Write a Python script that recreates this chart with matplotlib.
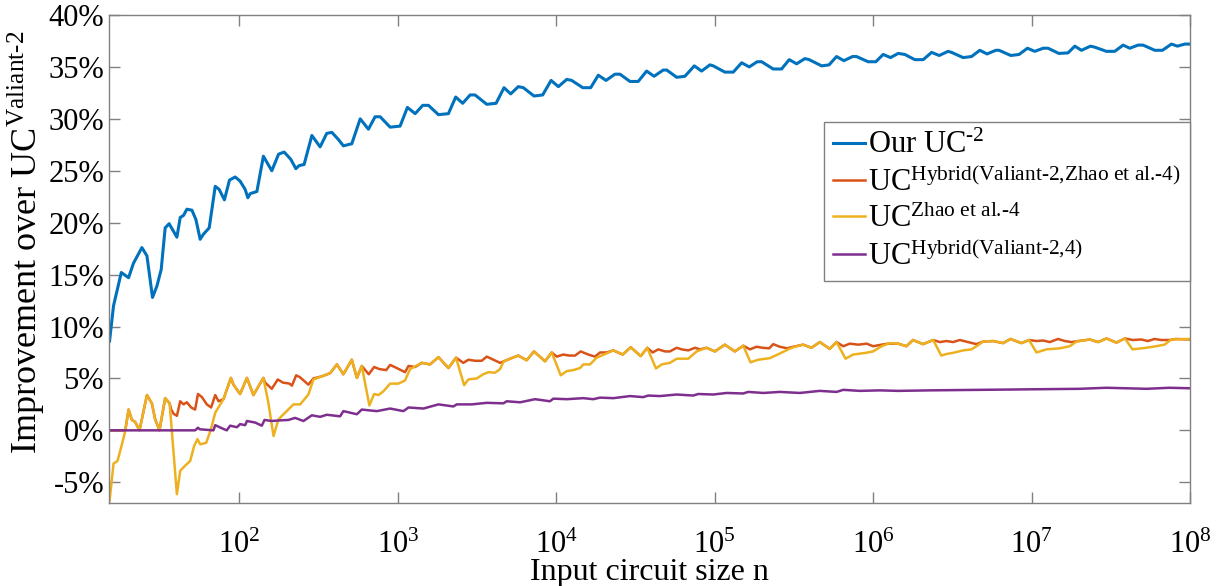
import numpy as np
import matplotlib
matplotlib.use("Agg")
import matplotlib.pyplot as plt

plt.rcParams['font.family'] = ['Liberation Serif', 'DejaVu Serif']
plt.rcParams['mathtext.fontset'] = 'custom'
plt.rcParams['mathtext.rm'] = 'Liberation Serif'
plt.rcParams['mathtext.it'] = 'Liberation Serif:italic'
plt.rcParams['axes.unicode_minus'] = False

# x values are log10(n); y values in percent
blue_logn = [1.18, 1.205, 1.254, 1.300, 1.331, 1.384, 1.416, 1.451, 1.479, 1.506,
             1.531, 1.556, 1.605, 1.626, 1.647, 1.668, 1.700, 1.725, 1.752, 1.773,
             1.809, 1.847, 1.872, 1.905, 1.937, 1.973, 2.004, 2.036, 2.053, 2.068,
             2.110, 2.151, 2.204, 2.247, 2.282, 2.324, 2.356, 2.377, 2.408, 2.457,
             2.509, 2.551, 2.583, 2.625, 2.656, 2.709, 2.762, 2.814, 2.856, 2.888,
             2.951, 3.014, 3.060, 3.109, 3.157, 3.193, 3.256, 3.319, 3.365, 3.409,
             3.456, 3.487, 3.561, 3.620, 3.670, 3.712, 3.760, 3.792, 3.859, 3.914,
             3.967, 4.013, 4.066, 4.097, 4.167, 4.217, 4.265, 4.314, 4.370, 4.402,
             4.465, 4.517, 4.570, 4.617, 4.675, 4.697, 4.760, 4.812, 4.871, 4.917,
             4.970, 4.991, 5.064, 5.117, 5.170, 5.218, 5.268, 5.296, 5.369, 5.422,
             5.470, 5.517, 5.569, 5.596, 5.675, 5.722, 5.769, 5.815, 5.870, 5.895,
             5.968, 6.017, 6.063, 6.110, 6.158, 6.200, 6.263, 6.316, 6.369, 6.417,
             6.473, 6.495, 6.568, 6.621, 6.673, 6.719, 6.774, 6.795, 6.869, 6.921,
             6.974, 7.020, 7.073, 7.104, 7.172, 7.230, 7.273, 7.315, 7.372, 7.399,
             7.473, 7.525, 7.578, 7.620, 7.672, 7.704, 7.778, 7.826, 7.883, 7.921,
             7.967, 8.0]
blue_pct = [8.6, 12.0, 15.2, 14.7, 16.1, 17.6, 16.8, 12.8, 13.9, 15.5,
            19.5, 19.9, 18.6, 20.5, 20.7, 21.3, 21.2, 20.3, 18.4, 18.9,
            19.5, 23.5, 23.2, 22.2, 24.1, 24.4, 24.0, 23.2, 22.4, 22.8,
            23.0, 26.4, 25.0, 26.6, 26.8, 26.1, 25.2, 25.5, 25.6, 28.4,
            27.3, 28.6, 28.7, 28.0, 27.4, 27.6, 30.0, 29.0, 30.2, 30.2,
            29.2, 29.3, 31.1, 30.5, 31.3, 31.3, 30.4, 30.5, 32.1, 31.5,
            32.3, 32.3, 31.4, 31.5, 33.0, 32.4, 33.1, 33.0, 32.2, 32.3,
            33.7, 33.1, 33.8, 33.7, 33.0, 33.0, 34.2, 33.7, 34.3, 34.3,
            33.6, 33.6, 34.6, 34.1, 34.7, 34.7, 34.0, 34.1, 35.1, 34.6,
            35.2, 35.1, 34.5, 34.5, 35.4, 35.0, 35.5, 35.5, 34.8, 34.8,
            35.7, 35.3, 35.8, 35.7, 35.1, 35.2, 36.0, 35.6, 36.0, 36.0,
            35.5, 35.5, 36.2, 35.9, 36.3, 36.2, 35.7, 35.7, 36.4, 36.1,
            36.5, 36.4, 35.9, 36.0, 36.6, 36.25, 36.6, 36.6, 36.1, 36.2,
            36.8, 36.5, 36.8, 36.8, 36.3, 36.35, 37.0, 36.6, 37.0, 36.9,
            36.5, 36.5, 37.1, 36.8, 37.1, 37.1, 36.6, 36.6, 37.2, 37.0,
            37.2, 37.2]

orange_logn = [1.18, 1.279, 1.300, 1.321, 1.342, 1.369, 1.416, 1.447, 1.468, 1.495,
               1.531, 1.559, 1.569, 1.584, 1.605, 1.626, 1.647, 1.668, 1.695, 1.720,
               1.738, 1.763, 1.794, 1.821, 1.847, 1.868, 1.899, 1.946, 1.962, 2.004,
               2.047, 2.088, 2.151, 2.162, 2.204, 2.242, 2.274, 2.316, 2.331, 2.358,
               2.383, 2.435, 2.467, 2.520, 2.572, 2.615, 2.656, 2.709, 2.741, 2.772,
               2.816, 2.850, 2.883, 2.926, 2.951, 2.993, 3.045, 3.067, 3.109, 3.151,
               3.203, 3.256, 3.319, 3.367, 3.413, 3.445, 3.487, 3.529, 3.561, 3.603,
               3.645, 3.708, 3.760, 3.813, 3.859, 3.929, 3.971, 4.003, 4.044, 4.082,
               4.118, 4.154, 4.202, 4.244, 4.276, 4.318, 4.360, 4.419, 4.470, 4.533,
               4.574, 4.608, 4.644, 4.686, 4.717, 4.760, 4.791, 4.833, 4.875, 4.907,
               4.949, 5.001, 5.064, 5.127, 5.180, 5.222, 5.264, 5.302, 5.344, 5.369,
               5.411, 5.457, 5.495, 5.558, 5.611, 5.663, 5.726, 5.769, 5.811, 5.853,
               5.906, 5.959, 6.000, 6.053, 6.095, 6.158, 6.210, 6.252, 6.315, 6.379,
               6.421, 6.463, 6.505, 6.547, 6.599, 6.652, 6.694, 6.757, 6.820, 6.867,
               6.936, 6.984, 7.031, 7.073, 7.115, 7.167, 7.210, 7.252, 7.294, 7.368,
               7.420, 7.473, 7.536, 7.589, 7.639, 7.692, 7.734, 7.776, 7.818, 7.870,
               7.912, 8.0]
orange_pct = [0.0, 0.0, 2.0, 1.0, 0.8, 0.0, 3.4, 2.6, 1.05, 0.0,
              3.1, 2.6, 2.0, 1.6, 1.4, 2.8, 2.5, 2.7, 2.2, 2.0,
              3.5, 3.2, 2.5, 2.2, 3.4, 2.8, 3.0, 5.05, 4.4, 3.5,
              5.05, 3.4, 5.05, 4.6, 4.0, 4.9, 4.6, 4.5, 4.3, 5.3,
              5.1, 4.4, 5.0, 5.2, 5.5, 6.35, 5.4, 6.8, 5.05, 6.2,
              5.4, 6.1, 5.9, 5.8, 6.3, 6.0, 5.6, 6.2, 6.1, 6.5,
              6.35, 7.05, 6.0, 7.0, 6.5, 6.8, 6.7, 6.7, 7.1, 6.8,
              6.5, 6.9, 7.2, 6.75, 7.6, 6.65, 7.5, 7.1, 7.3, 7.2,
              7.2, 7.6, 7.3, 7.1, 7.5, 7.5, 7.7, 7.3, 8.0, 7.15,
              7.95, 7.5, 7.8, 7.6, 7.6, 7.95, 7.8, 7.7, 7.95, 7.8,
              7.95, 7.6, 8.25, 7.6, 8.15, 7.8, 8.05, 7.95, 7.9, 8.3,
              8.05, 7.9, 8.05, 8.25, 7.95, 8.5, 7.85, 8.5, 8.1, 8.35,
              8.25, 8.35, 8.1, 8.25, 8.35, 8.35, 8.1, 8.7, 8.3, 8.7,
              8.5, 8.6, 8.5, 8.7, 8.5, 8.3, 8.55, 8.6, 8.4, 8.8,
              8.4, 8.7, 8.6, 8.65, 8.5, 8.8, 8.6, 8.5, 8.6, 8.75,
              8.5, 8.85, 8.45, 8.85, 8.7, 8.75, 8.6, 8.8, 8.7, 8.7,
              8.8, 8.75]

yellow_logn = [1.18, 1.205, 1.230, 1.258, 1.279, 1.300, 1.321, 1.342, 1.369, 1.416,
               1.447, 1.468, 1.495, 1.531, 1.559, 1.605, 1.626, 1.657, 1.689, 1.714,
               1.735, 1.752, 1.790, 1.820, 1.847, 1.899, 1.946, 1.962, 2.004, 2.047,
               2.088, 2.151, 2.183, 2.215, 2.246, 2.278, 2.341, 2.383, 2.435, 2.467,
               2.520, 2.572, 2.615, 2.656, 2.709, 2.741, 2.772, 2.820, 2.850, 2.877,
               2.908, 2.951, 3.003, 3.045, 3.077, 3.151, 3.203, 3.256, 3.319, 3.367,
               3.418, 3.445, 3.498, 3.539, 3.571, 3.613, 3.645, 3.666, 3.708, 3.760,
               3.813, 3.859, 3.929, 3.971, 4.028, 4.066, 4.107, 4.150, 4.171, 4.213,
               4.255, 4.286, 4.360, 4.419, 4.470, 4.533, 4.574, 4.629, 4.665, 4.717,
               4.760, 4.833, 4.886, 4.949, 5.001, 5.064, 5.127, 5.180, 5.226, 5.274,
               5.348, 5.411, 5.464, 5.495, 5.558, 5.611, 5.663, 5.726, 5.769, 5.826,
               5.874, 5.948, 6.000, 6.053, 6.105, 6.158, 6.210, 6.252, 6.315, 6.379,
               6.430, 6.463, 6.515, 6.568, 6.621, 6.662, 6.694, 6.757, 6.820, 6.867,
               6.936, 6.984, 7.031, 7.094, 7.178, 7.241, 7.283, 7.368, 7.420, 7.473,
               7.536, 7.589, 7.637, 7.723, 7.786, 7.839, 7.881, 8.0]
yellow_pct = [-6.8, -3.2, -2.95, -1.35, -0.05, 2.0, 1.0, 0.8, 0.0, 3.4,
              2.6, 1.05, 0.0, 3.1, 2.6, -6.15, -3.9, -3.4, -2.95, -1.5,
              -0.85, -1.35, -1.2, 0.1, 1.7, 3.0, 5.05, 4.4, 3.5, 5.05,
              3.4, 5.05, 2.6, -0.55, 1.05, 1.55, 2.5, 2.5, 3.45, 4.9,
              5.2, 5.5, 6.35, 5.4, 6.8, 5.05, 6.2, 2.4, 3.5, 3.4,
              3.75, 4.5, 4.5, 4.8, 5.9, 6.5, 6.35, 7.05, 6.0, 7.0,
              4.35, 4.9, 5.0, 5.4, 5.6, 5.55, 5.9, 6.6, 6.9, 7.2,
              6.75, 7.6, 6.65, 7.5, 5.3, 5.7, 5.8, 6.0, 6.35, 6.35,
              7.0, 7.2, 7.7, 7.3, 8.0, 7.15, 7.95, 5.96, 6.35, 6.5,
              6.9, 6.9, 7.6, 7.95, 7.6, 8.25, 7.6, 8.15, 6.55, 6.8,
              6.95, 7.4, 7.8, 8.0, 8.25, 7.95, 8.5, 7.85, 8.5, 6.9,
              7.3, 7.45, 7.6, 8.1, 8.4, 8.35, 8.1, 8.7, 8.3, 8.7,
              7.2, 7.35, 7.5, 7.7, 7.8, 8.2, 8.55, 8.6, 8.4, 8.8,
              8.4, 8.7, 7.5, 7.8, 7.9, 8.1, 8.55, 8.75, 8.5, 8.85,
              8.45, 8.85, 7.8, 7.95, 8.1, 8.25, 8.75, 8.8]

purple_logn = [1.18, 1.720, 1.738, 1.750, 1.836, 1.847, 1.889, 1.920, 1.941, 1.984,
               2.004, 2.036, 2.047, 2.099, 2.141, 2.158, 2.204, 2.246, 2.309, 2.351,
               2.404, 2.457, 2.509, 2.551, 2.635, 2.656, 2.741, 2.772, 2.867, 2.951,
               3.035, 3.067, 3.161, 3.256, 3.350, 3.372, 3.466, 3.561, 3.666, 3.687,
               3.771, 3.866, 3.960, 3.981, 4.066, 4.171, 4.233, 4.276, 4.360, 4.465,
               4.549, 4.580, 4.654, 4.760, 4.864, 4.896, 4.991, 5.075, 5.180, 5.211,
               5.306, 5.411, 5.537, 5.663, 5.769, 5.811, 5.916, 6.042, 6.158, 6.357,
               6.673, 6.989, 7.304, 7.473, 7.725, 7.870, 8.0]
purple_pct = [0.0, 0.0, 0.25, 0.1, 0.0, 0.5, 0.2, 0.0, 0.45, 0.3,
              0.6, 0.5, 0.9, 0.75, 0.45, 1.0, 0.9, 0.95, 1.0, 1.2,
              0.9, 1.45, 1.3, 1.5, 1.35, 1.85, 1.55, 2.0, 1.85, 2.1,
              1.85, 2.2, 2.1, 2.5, 2.3, 2.5, 2.5, 2.65, 2.6, 2.8,
              2.7, 3.0, 2.8, 3.05, 3.0, 3.1, 3.0, 3.15, 3.1, 3.3,
              3.2, 3.35, 3.3, 3.45, 3.35, 3.5, 3.45, 3.6, 3.55, 3.7,
              3.6, 3.7, 3.6, 3.8, 3.7, 3.9, 3.8, 3.85, 3.8, 3.85,
              3.9, 3.95, 4.0, 4.1, 4.0, 4.1, 4.05]

labels = [r'Our UC$^{\text{-2}}$',
          r'UC$^{\text{Hybrid(Valiant-2,Zhao et al.-4)}}$',
          r'UC$^{\text{Zhao et al.-4}}$',
          r'UC$^{\text{Hybrid(Valiant-2,4)}}$']
colors = ['#0072BD', '#D95319', '#EDB120', '#7E2F8E']

fig = plt.figure(figsize=(12.2, 5.86), dpi=100)
ax = fig.add_axes([0.0893, 0.1416, 0.8861, 0.8328])

series = [(blue_logn, blue_pct, 2.2), (orange_logn, orange_pct, 1.8),
          (yellow_logn, yellow_pct, 1.8), (purple_logn, purple_pct, 1.8)]
for (lx, ly, lw), c, lab in zip(series, colors, labels):
    ax.plot(10 ** np.array(lx), ly, color=c, lw=lw, label=lab)

ax.set_xscale('log')
ax.set_xlim(15, 1e8)
ax.set_ylim(-7, 40)
ax.set_xticks([1e2, 1e3, 1e4, 1e5, 1e6, 1e7, 1e8])
ax.xaxis.set_minor_locator(matplotlib.ticker.NullLocator())
yt = list(range(-5, 41, 5))
ax.set_yticks(yt)
ax.set_yticklabels(['%d%%' % v for v in yt])

gray = '#808080'
for s in ax.spines.values():
    s.set_color(gray)
    s.set_linewidth(1.0)
ax.tick_params(direction='in', length=8, width=1.0, color=gray,
               top=True, right=True, labelsize=22, labelcolor='black')
ax.tick_params(axis='x', pad=20)

ax.set_xlabel('Input circuit size n', fontsize=23)
ax.xaxis.set_label_coords(0.5, -0.113)
ax.set_ylabel(r'Improvement over UC$^{\text{Valiant-2}}$', fontsize=26)
ax.yaxis.set_label_coords(-0.057, 0.535)

leg = ax.legend(loc='upper right', bbox_to_anchor=(1.0, 0.781), borderaxespad=0,
                fontsize=22, fancybox=False, framealpha=1, edgecolor=gray,
                handlelength=1.05, handletextpad=0.1, labelspacing=0.22,
                borderpad=0.3)
leg.get_frame().set_linewidth(1.0)

fig.savefig('out.png', dpi=100)
